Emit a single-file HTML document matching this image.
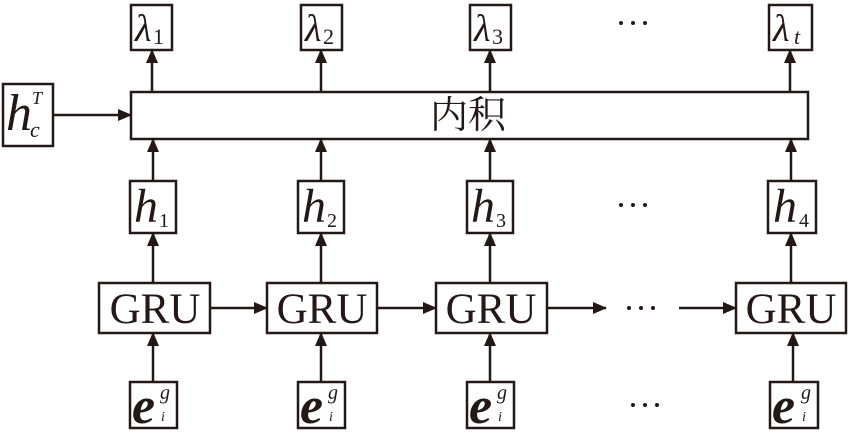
<!DOCTYPE html>
<html><head><meta charset="utf-8"><style>body{margin:0;background:#fff}svg{display:block}</style></head><body>
<svg width="850" height="435" viewBox="0 0 850 435" xmlns="http://www.w3.org/2000/svg">
<defs><marker id="b" markerWidth="14" markerHeight="12" refX="13" refY="6" orient="auto" markerUnits="userSpaceOnUse"><path d="M0,0 L14,6 L0,12 z" fill="#231815"/></marker></defs>
<g fill="none" stroke="#231815" stroke-width="2.5">
<rect x="131" y="92" width="677" height="47" fill="#fff"/>
<rect x="3" y="84" width="50" height="62"/>
<rect x="131" y="5" width="41" height="45"/><rect x="301" y="5" width="41" height="45"/><rect x="470" y="5" width="41" height="45"/><rect x="769" y="5" width="43" height="45"/>
<rect x="130" y="181" width="46" height="52"/><rect x="298" y="181" width="46" height="52"/><rect x="467" y="181" width="46" height="52"/><rect x="768" y="181" width="48" height="52"/>
<rect x="99" y="283" width="111" height="50"/><rect x="267" y="283" width="110" height="50"/><rect x="436" y="283" width="111" height="50"/><rect x="736" y="283" width="110" height="50"/>
<rect x="130" y="382" width="47" height="46"/><rect x="298" y="382" width="47" height="46"/><rect x="467" y="382" width="47" height="46"/><rect x="770" y="382" width="48" height="46"/>
</g>
<g stroke="#231815" stroke-width="2.5" marker-end="url(#b)">
<line x1="53" y1="115" x2="131" y2="115"/>
<line x1="152" y1="92" x2="152" y2="50"/><line x1="321" y1="92" x2="321" y2="50"/><line x1="490" y1="92" x2="490" y2="50"/><line x1="790" y1="92" x2="790" y2="50"/>
<line x1="153" y1="181" x2="153" y2="139"/><line x1="321" y1="181" x2="321" y2="139"/><line x1="490" y1="181" x2="490" y2="139"/><line x1="791" y1="181" x2="791" y2="139"/>
<line x1="153" y1="283" x2="153" y2="233"/><line x1="321" y1="283" x2="321" y2="233"/><line x1="490" y1="283" x2="490" y2="233"/><line x1="791" y1="283" x2="791" y2="233"/>
<line x1="153" y1="382" x2="153" y2="333"/><line x1="321" y1="382" x2="321" y2="333"/><line x1="490" y1="382" x2="490" y2="333"/><line x1="793" y1="382" x2="793" y2="333"/>
<line x1="210" y1="308" x2="267" y2="308"/><line x1="377" y1="308" x2="436" y2="308"/><line x1="547" y1="308" x2="606" y2="308"/><line x1="679" y1="308" x2="736" y2="308"/>
</g>
<g fill="#231815">
<circle cx="621" cy="23" r="2"/><circle cx="633" cy="23" r="2"/><circle cx="645" cy="23" r="2"/>
<circle cx="621" cy="205" r="2"/><circle cx="633" cy="205" r="2"/><circle cx="645" cy="205" r="2"/>
<circle cx="629" cy="308" r="2"/><circle cx="641" cy="308" r="2"/><circle cx="653" cy="308" r="2"/>
<circle cx="633" cy="405" r="2"/><circle cx="645" cy="405" r="2"/><circle cx="657" cy="405" r="2"/>
</g>
<g font-family="Liberation Serif, serif" fill="#231815">
<text x="468" y="128" font-size="38" text-anchor="middle" font-family="Noto Serif CJK SC, serif">内积</text>
<g font-size="43" text-anchor="middle"><text x="155" y="323">GRU</text><text x="322" y="323">GRU</text><text x="491" y="323">GRU</text><text x="791" y="323">GRU</text></g>
<g font-size="38" font-style="italic"><text x="135" y="41">λ</text><text x="305" y="41">λ</text><text x="474" y="41">λ</text><text x="773" y="41">λ</text></g>
<g font-size="22"><text x="153" y="44">1</text><text x="323" y="44">2</text><text x="492" y="44">3</text><text x="794" y="44" font-style="italic">t</text></g>
<g font-size="48" font-style="italic"><text x="134" y="222">h</text><text x="302" y="222">h</text><text x="471" y="222">h</text><text x="773" y="222">h</text></g>
<g font-size="20"><text x="159" y="227">1</text><text x="327" y="227">2</text><text x="496" y="227">3</text><text x="799" y="227">4</text></g>
<text x="6" y="130" font-size="52" font-style="italic">h</text><text x="32" y="104" font-size="18" font-style="italic">T</text><text x="30" y="137" font-size="22" font-style="italic">c</text>
<g font-size="52" font-style="italic" font-weight="bold"><text x="132" y="423">e</text><text x="300" y="423">e</text><text x="469" y="423">e</text><text x="772" y="423">e</text></g>
<g font-size="20" font-style="italic"><text x="160" y="399">g</text><text x="328" y="399">g</text><text x="497" y="399">g</text><text x="801" y="399">g</text>
<text x="161" y="421" font-size="14">i</text><text x="329" y="421" font-size="14">i</text><text x="498" y="421" font-size="14">i</text><text x="802" y="421" font-size="14">i</text></g>
</g>
</svg>
</body></html>
